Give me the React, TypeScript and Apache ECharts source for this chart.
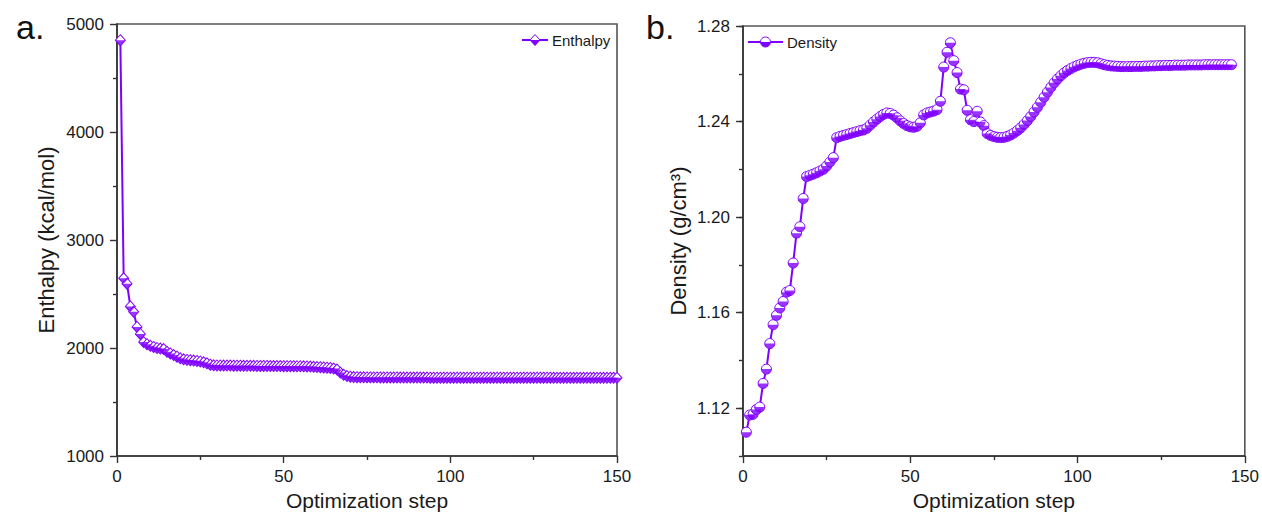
import { useEffect, useRef } from "react";
import * as echarts from "echarts";

const PURPLE = "#8000ff";
const FONT = "'Liberation Sans', Arial, Helvetica, sans-serif";
const AXIS_COLOR = "#333333";

// Enthalpy (kcal/mol) for optimization steps 1..150
const enthalpy = [
  4850, 2645, 2595, 2385, 2335, 2195, 2130, 2055, 2035, 2020,
  2010, 2000, 1995, 1990, 1965, 1950, 1935, 1920, 1905, 1895,
  1890, 1887, 1884, 1880, 1875, 1868, 1858, 1845, 1840, 1838,
  1838, 1837, 1837, 1837, 1836, 1836, 1836, 1835, 1835, 1835,
  1835, 1834, 1834, 1834, 1834, 1833, 1833, 1833, 1833, 1832,
  1832, 1832, 1832, 1831, 1831, 1830, 1829, 1828, 1826, 1824,
  1822, 1820, 1818, 1815, 1810, 1800, 1772, 1752, 1740, 1734,
  1731, 1730, 1729, 1729, 1728, 1728, 1728, 1728, 1727, 1727,
  1727, 1727, 1727, 1727, 1726, 1726, 1726, 1726, 1726, 1726,
  1726, 1726, 1726, 1725, 1725, 1725, 1725, 1725, 1725, 1725,
  1725, 1725, 1725, 1725, 1725, 1725, 1725, 1725, 1725, 1725,
  1725, 1725, 1725, 1725, 1725, 1725, 1725, 1725, 1725, 1725,
  1725, 1725, 1725, 1725, 1725, 1725, 1725, 1725, 1725, 1725,
  1724, 1724, 1724, 1724, 1724, 1724, 1724, 1724, 1724, 1724,
  1724, 1724, 1724, 1724, 1724, 1724, 1724, 1724, 1724, 1724,
];

// Density (g/cm3) for optimization steps 1..146
const density = [
  1.110, 1.1172, 1.1175, 1.1195, 1.1205, 1.1304, 1.1364, 1.1471, 1.155, 1.1589,
  1.162, 1.1647, 1.1686, 1.1693, 1.1808, 1.1933, 1.196, 1.2078, 1.217, 1.2175,
  1.218, 1.2186, 1.2193, 1.22, 1.2214, 1.2231, 1.2249, 1.2333, 1.2338, 1.2342,
  1.2346, 1.235, 1.2354, 1.2358, 1.2362, 1.2365, 1.2372, 1.2385, 1.2398, 1.241,
  1.2421, 1.243, 1.2436, 1.2434, 1.2427, 1.2416, 1.2403, 1.2392, 1.2383, 1.2378,
  1.2376, 1.238, 1.2395, 1.2428, 1.2436, 1.244, 1.2444, 1.245, 1.2485, 1.2628,
  1.269, 1.273, 1.2655, 1.2605, 1.2536, 1.2533, 1.2447, 1.2408, 1.24, 1.2443,
  1.2398, 1.2383, 1.235, 1.2342, 1.2337, 1.2334, 1.2333, 1.2334, 1.2338, 1.2344,
  1.2352, 1.2362, 1.2374, 1.2388, 1.2404, 1.2421, 1.244, 1.246, 1.2481, 1.2502,
  1.2523, 1.2543, 1.2562, 1.2578, 1.2592, 1.2604, 1.2614, 1.2622, 1.2629, 1.2635,
  1.264, 1.2644, 1.2647, 1.2648, 1.2648, 1.2646, 1.2642, 1.2638, 1.2635, 1.2633,
  1.2632, 1.2631, 1.263, 1.263, 1.263, 1.263, 1.2631, 1.2631, 1.2631, 1.2632,
  1.2632, 1.2633, 1.2633, 1.2634, 1.2634, 1.2635, 1.2635, 1.2635, 1.2636, 1.2636,
  1.2636, 1.2636, 1.2637, 1.2637, 1.2637, 1.2637, 1.2637, 1.2638, 1.2638, 1.2638,
  1.2638, 1.2638, 1.2638, 1.2638, 1.2638, 1.2638,
];

// Labelled ticks on the density axis
const densityMajorTicks = [1.12, 1.16, 1.2, 1.24, 1.28];

const enthalpyPoints = enthalpy.map((v, i) => [i + 1, v]);
const densityPoints = density.map((v, i) => [i + 1, v]);

// Lower halves of the markers, placed below each point with symbolOffset
const HALF_DIAMOND = "path://M0,0L10,0L5,5Z";
const HALF_CIRCLE =
  "path://M0,0L0.38,1.91L1.46,3.54L3.09,4.62L5,5L6.91,4.62L8.54,3.54L9.62,1.91L10,0Z";

const DIAMOND_W = 10;
const DIAMOND_H = 11;
const CIRCLE_D = 10;

const tickLabel = { color: "#1a1a1a", fontFamily: FONT, fontSize: 17 };
const xName = { color: "#1a1a1a", fontFamily: FONT, fontSize: 21 };
const yName = { color: "#1a1a1a", fontFamily: FONT, fontSize: 22 };

function xAxisFor(gridIndex: number) {
  return {
    type: "value",
    gridIndex,
    min: 0,
    max: 150,
    interval: 50,
    name: "Optimization step",
    nameLocation: "middle",
    nameGap: 31,
    nameTextStyle: xName,
    axisLine: { show: true, lineStyle: { color: AXIS_COLOR, width: 1.6 } },
    axisTick: { show: true, inside: false, length: 7, lineStyle: { color: AXIS_COLOR, width: 1.4 } },
    minorTick: { show: true, splitNumber: 2, length: 4, lineStyle: { color: AXIS_COLOR, width: 1.4 } },
    axisLabel: { ...tickLabel, margin: 12 },
    splitLine: { show: false },
  };
}

export default function App() {
  const ref = useRef<HTMLDivElement>(null);

  useEffect(() => {
    if (!ref.current) return;
    const chart = echarts.init(ref.current, undefined, { renderer: "svg" });

    const option = {
      animation: false,
      backgroundColor: "#ffffff",
      grid: [
        { left: 117, top: 24, width: 500, height: 432, show: true, borderColor: "#555", borderWidth: 1.6, backgroundColor: "transparent" },
        { left: 743, top: 26, width: 503, height: 433, show: true, borderColor: "#555", borderWidth: 1.6, backgroundColor: "transparent" },
      ],
      xAxis: [xAxisFor(0), xAxisFor(1)],
      yAxis: [
        {
          type: "value",
          gridIndex: 0,
          min: 1000,
          max: 5000,
          interval: 1000,
          name: "Enthalpy (kcal/mol)",
          nameLocation: "middle",
          nameGap: 60,
          nameTextStyle: yName,
          axisLine: { show: true, lineStyle: { color: AXIS_COLOR, width: 1.6 } },
          axisTick: { show: true, length: 7, lineStyle: { color: AXIS_COLOR, width: 1.4 } },
          minorTick: { show: true, splitNumber: 2, length: 4, lineStyle: { color: AXIS_COLOR, width: 1.4 } },
          axisLabel: { ...tickLabel, margin: 13, formatter: (v: number) => String(v) },
          splitLine: { show: false },
        },
        {
          type: "value",
          gridIndex: 1,
          min: 1.1,
          max: 1.28,
          interval: 0.02,
          name: "Density (g/cm³)",
          nameLocation: "middle",
          nameGap: 54,
          nameTextStyle: yName,
          axisLine: { show: true, lineStyle: { color: AXIS_COLOR, width: 1.6 } },
          axisTick: { show: true, length: 4, lineStyle: { color: AXIS_COLOR, width: 1.4 } },
          axisLabel: {
            ...tickLabel,
            margin: 13,
            formatter: (v: number) => {
              const hit = densityMajorTicks.some((t) => Math.abs(t - v) < 1e-6);
              return hit ? v.toFixed(2) : "";
            },
          },
          splitLine: { show: false },
        },
        {
          // long ticks at the labelled density values
          type: "value",
          gridIndex: 1,
          position: "left",
          min: 1.1,
          max: 1.28,
          axisLine: { show: false },
          axisLabel: { show: false },
          axisTick: { show: true, length: 7, customValues: densityMajorTicks, lineStyle: { color: AXIS_COLOR, width: 1.4 } },
          splitLine: { show: false },
        },
      ],
      series: [
        {
          name: "Enthalpy",
          type: "line",
          xAxisIndex: 0,
          yAxisIndex: 0,
          data: enthalpyPoints,
          symbol: "diamond",
          symbolSize: [DIAMOND_W, DIAMOND_H],
          showAllSymbol: true,
          lineStyle: { color: PURPLE, width: 2 },
          itemStyle: { color: "#ffffff", borderColor: PURPLE, borderWidth: 1 },
          z: 2,
          silent: true,
        },
        {
          name: "Enthalpy",
          type: "scatter",
          xAxisIndex: 0,
          yAxisIndex: 0,
          data: enthalpyPoints,
          symbol: HALF_DIAMOND,
          symbolSize: [DIAMOND_W, DIAMOND_H / 2],
          symbolOffset: [0, DIAMOND_H / 4],
          itemStyle: { color: PURPLE },
          z: 3,
          silent: true,
        },
        {
          name: "Density",
          type: "line",
          xAxisIndex: 1,
          yAxisIndex: 1,
          data: densityPoints,
          symbol: "circle",
          symbolSize: CIRCLE_D,
          showAllSymbol: true,
          lineStyle: { color: PURPLE, width: 2 },
          itemStyle: { color: "#ffffff", borderColor: PURPLE, borderWidth: 1 },
          z: 2,
          silent: true,
        },
        {
          name: "Density",
          type: "scatter",
          xAxisIndex: 1,
          yAxisIndex: 1,
          data: densityPoints,
          symbol: HALF_CIRCLE,
          symbolSize: [CIRCLE_D, CIRCLE_D / 2],
          symbolOffset: [0, CIRCLE_D / 4],
          itemStyle: { color: PURPLE },
          z: 3,
          silent: true,
        },
      ],
      graphic: [
        { type: "text", left: 16, top: 10, style: { text: "a.", font: `34px ${FONT}`, fill: "#111" } },
        { type: "text", left: 646, top: 10, style: { text: "b.", font: `34px ${FONT}`, fill: "#111" } },
        // legend, panel a
        { type: "line", shape: { x1: 522, y1: 40, x2: 548, y2: 40 }, style: { stroke: PURPLE, lineWidth: 2 } },
        { type: "polygon", shape: { points: [[535, 34.5], [540, 40], [535, 45.5], [530, 40]] }, style: { fill: "#fff", stroke: PURPLE, lineWidth: 1 } },
        { type: "polygon", shape: { points: [[530, 40], [540, 40], [535, 45.5]] }, style: { fill: PURPLE } },
        { type: "text", x: 552, y: 40, style: { text: "Enthalpy", font: `15px ${FONT}`, fill: "#1a1a1a", verticalAlign: "middle" } },
        // legend, panel b
        { type: "line", shape: { x1: 748, y1: 42, x2: 783, y2: 42 }, style: { stroke: PURPLE, lineWidth: 2 } },
        { type: "circle", shape: { cx: 765.5, cy: 42, r: 5 }, style: { fill: "#fff", stroke: PURPLE, lineWidth: 1 } },
        { type: "sector", shape: { cx: 765.5, cy: 42, r: 5, r0: 0, startAngle: 0, endAngle: Math.PI }, style: { fill: PURPLE } },
        { type: "text", x: 787, y: 42, style: { text: "Density", font: `15px ${FONT}`, fill: "#1a1a1a", verticalAlign: "middle" } },
      ],
    };

    chart.setOption(option as any);
    return () => chart.dispose();
  }, []);

  return (
    <div
      ref={ref}
      style={{ position: "fixed", left: 0, top: 0, width: 1262, height: 516, background: "#fff" }}
    />
  );
}
